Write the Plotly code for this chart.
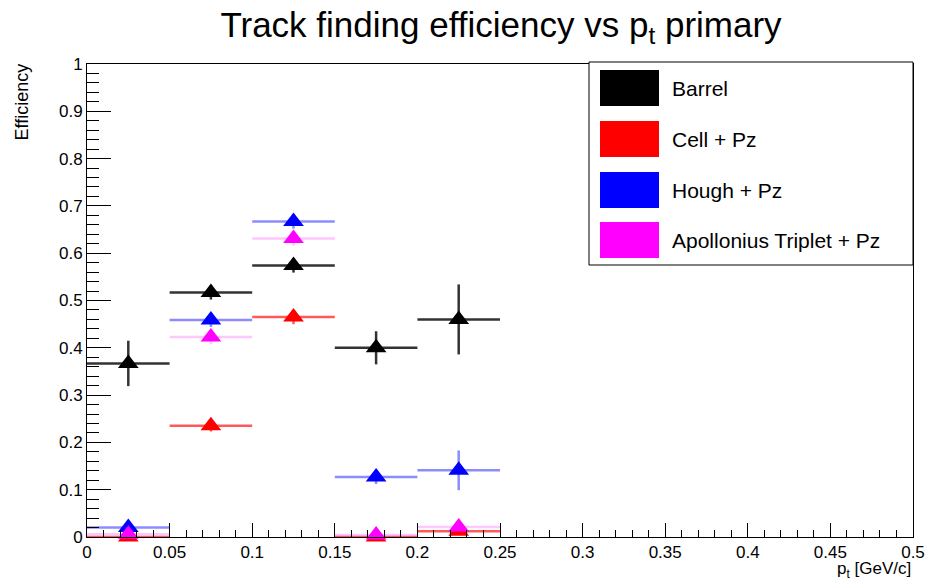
import plotly.graph_objects as go

# ---- data ----
pt_centers = [0.025, 0.075, 0.125, 0.175, 0.225]
pt_halfwidth = [0.025, 0.025, 0.025, 0.025, 0.025]

series_names = ["Barrel", "Cell + Pz", "Hough + Pz", "Apollonius Triplet + Pz"]
barrel_eff = [0.367, 0.517, 0.574, 0.400, 0.460]
barrel_err = [0.048, 0.015, 0.015, 0.035, 0.074]
cell_eff = [0.0, 0.235, 0.465, 0.0, 0.012]
cell_err = [0.0, 0.012, 0.015, 0.0, 0.008]
hough_eff = [0.020, 0.459, 0.667, 0.127, 0.141]
hough_err = [0.010, 0.015, 0.015, 0.015, 0.042]
apol_eff = [0.006, 0.423, 0.631, 0.004, 0.021]
apol_err = [0.005, 0.015, 0.015, 0.004, 0.010]

marker_colors = ["#000000", "#ff0000", "#0000ff", "#ff00ff"]
bar_colors = ["rgba(0,0,0,0.8)", "rgba(255,0,0,0.65)", "rgba(0,0,255,0.45)", "rgba(255,0,255,0.22)"]

effs = [barrel_eff, cell_eff, hough_eff, apol_eff]
errs = [barrel_err, cell_err, hough_err, apol_err]

FONT = "Liberation Sans, Arial, Helvetica, sans-serif"

fig = go.Figure()
for name, y, e, mc, bc in zip(series_names, effs, errs, marker_colors, bar_colors):
    fig.add_trace(go.Scatter(
        x=pt_centers, y=y, mode="markers", name=name, showlegend=False,
        cliponaxis=False,
        marker=dict(symbol="triangle-up", size=18, color=mc, line=dict(width=0)),
        error_x=dict(type="data", array=pt_halfwidth, color=bc, thickness=2.5, width=0),
        error_y=dict(type="data", array=e, color=bc, thickness=2.5, width=0),
    ))

# plot-area pixel geometry
L, R, T, B = 87, 913, 64, 537
W, H = R - L, B - T
def px(x):
    return (x - L) / W
def py(y):
    return (B - y) / H

# legend box drawn in paper coordinates
shapes = [dict(type="rect", xref="paper", yref="paper",
               x0=px(589), x1=1.0, y0=py(265), y1=py(62),
               line=dict(color="black", width=1), fillcolor="white", layer="above")]
annotations = []
row_y = [88, 139, 190, 240]
for name, mc, ry in zip(series_names, marker_colors, row_y):
    shapes.append(dict(type="rect", xref="paper", yref="paper",
                       x0=px(600), x1=px(659), y0=py(ry + 18), y1=py(ry - 18),
                       line=dict(width=0), fillcolor=mc, layer="above"))
    annotations.append(dict(xref="paper", yref="paper", x=px(670), y=py(ry),
                            text=name, showarrow=False, xanchor="left", yanchor="middle",
                            font=dict(size=21, color="black", family=FONT)))

annotations.append(dict(xref="paper", yref="paper", x=1.0, y=py(570),
                        text="p<sub>t</sub> [GeV/c]", showarrow=False,
                        xanchor="right", yanchor="middle",
                        font=dict(size=17, color="black", family=FONT)))
annotations.append(dict(xref="paper", yref="paper", x=px(22), y=py(62),
                        text="Efficiency", showarrow=False, textangle=-90,
                        xanchor="center", yanchor="top",
                        font=dict(size=18, color="black", family=FONT)))

fig.update_layout(
    width=930, height=585,
    margin=dict(l=L, r=930 - R, t=T, b=585 - B, autoexpand=False),
    paper_bgcolor="white", plot_bgcolor="white",
    font=dict(family=FONT, color="black"),
    title=dict(text="Track finding efficiency vs p<sub>t</sub> primary",
               x=0.5, xref="container", xanchor="center", y=0.958, yanchor="middle",
               font=dict(size=35, color="black", family=FONT)),
    showlegend=False,
    shapes=shapes, annotations=annotations,
)
# keep title centred at ~501px
fig.update_layout(title_x=501 / 930)
fig.update_xaxes(range=[0, 0.5], dtick=0.05, tick0=0, showgrid=False, zeroline=False,
                 automargin=False, ticklabeloverflow="allow",
                 showline=True, linecolor="black", linewidth=1, mirror=True,
                 ticks="inside", ticklen=14, tickcolor="black", tickwidth=1,
                 tickfont=dict(size=17), tickformat="~g",
                 minor=dict(dtick=0.01, ticks="inside", ticklen=7, tickcolor="black", showgrid=False))
fig.update_yaxes(range=[0, 1], dtick=0.1, tick0=0, showgrid=False, zeroline=False,
                 automargin=False,
                 showline=True, linecolor="black", linewidth=1, mirror=True,
                 ticks="inside", ticklen=24, tickcolor="black", tickwidth=1,
                 tickfont=dict(size=17), tickformat="~g",
                 minor=dict(dtick=0.02, ticks="inside", ticklen=12, tickcolor="black", showgrid=False))

fig.write_html("out.html")
